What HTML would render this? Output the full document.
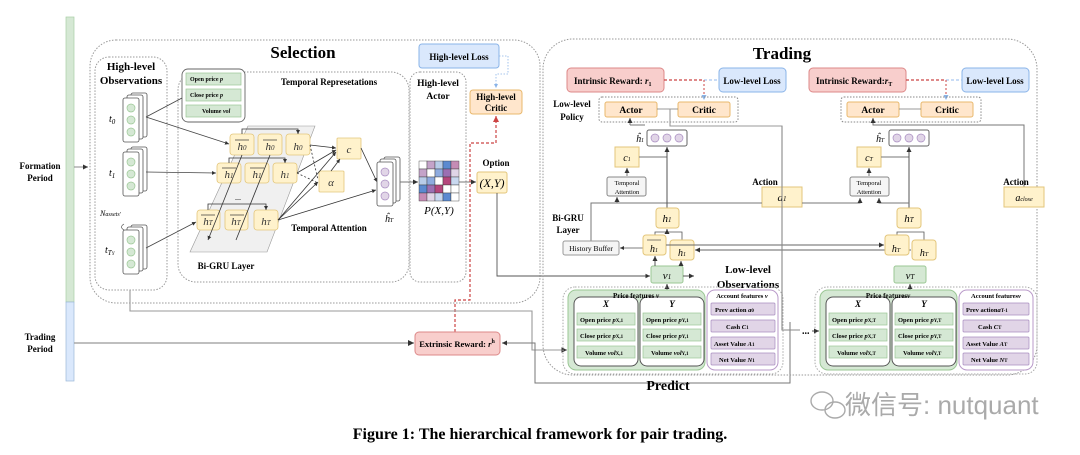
<!DOCTYPE html>
<html><head><meta charset="utf-8"><style>
html,body{margin:0;padding:0;background:#fff;}
svg{display:block;font-family:"Liberation Serif",serif;}
.b{font-weight:bold;}
</style></head><body>
<svg width="1080" height="455" viewBox="0 0 1080 455" xmlns="http://www.w3.org/2000/svg">
<defs>
<marker id="a" markerWidth="6" markerHeight="6" refX="5" refY="3" orient="auto"><path d="M0,0.5 L5,3 L0,5.5z" fill="#333"/></marker>
<marker id="ar" markerWidth="6" markerHeight="6" refX="5" refY="3" orient="auto"><path d="M0,0.5 L5,3 L0,5.5z" fill="#c44"/></marker>
<marker id="ab" markerWidth="6" markerHeight="6" refX="5" refY="3" orient="auto"><path d="M0,0.5 L5,3 L0,5.5z" fill="#8ab4e8"/></marker>
</defs>
<rect x="66" y="17" width="8" height="285" fill="#d5e8d4" stroke="#a8cfa5" stroke-width="0.7"/>
<rect x="66" y="302" width="8" height="79" fill="#dae8fc" stroke="#9bb8d8" stroke-width="0.7"/>
<text x="40" y="169" class="b" font-size="9" text-anchor="middle">Formation</text>
<text x="40" y="181" class="b" font-size="9" text-anchor="middle">Period</text>
<text x="40" y="340" class="b" font-size="9" text-anchor="middle">Trading</text>
<text x="40" y="352" class="b" font-size="9" text-anchor="middle">Period</text>
<line x1="74" y1="167" x2="88" y2="167" stroke="#888" marker-end="url(#a)"/>
<line x1="74" y1="343" x2="414" y2="343" stroke="#999" stroke-width="1.2" marker-end="url(#a)"/>

<rect x="90" y="40" width="450" height="263" rx="26" fill="none" stroke="#999" stroke-dasharray="1.5,1.5"/>
<text x="303" y="58" class="b" font-size="17" text-anchor="middle">Selection</text>
<rect x="95" y="57" width="72" height="233" rx="14" fill="none" stroke="#999" stroke-dasharray="1.5,1.5"/>
<text x="131" y="70" class="b" font-size="11" text-anchor="middle">High-level</text>
<text x="131" y="84" class="b" font-size="11" text-anchor="middle">Observations</text>
<rect x="178" y="72" width="231" height="210" rx="18" fill="none" stroke="#999" stroke-dasharray="1.5,1.5"/>
<text x="329" y="85" class="b" font-size="9" text-anchor="middle">Temporal Represetations</text>
<rect x="410" y="72" width="56" height="210" rx="10" fill="none" stroke="#999" stroke-dasharray="1.5,1.5"/>
<text x="438" y="86" class="b" font-size="9.5" text-anchor="middle">High-level</text>
<text x="438" y="99" class="b" font-size="9.5" text-anchor="middle">Actor</text>

<g fill="#fff" stroke="#555" stroke-width="0.8">
<rect x="131" y="93" width="16" height="44" rx="2"/><rect x="127" y="95" width="16" height="44" rx="2"/><rect x="123" y="98" width="16" height="44" rx="2"/>
<rect x="131" y="147" width="16" height="44" rx="2"/><rect x="127" y="149" width="16" height="44" rx="2"/><rect x="123" y="152" width="16" height="44" rx="2"/>
<rect x="131" y="225" width="16" height="44" rx="2"/><rect x="127" y="227" width="16" height="44" rx="2"/><rect x="123" y="230" width="16" height="44" rx="2"/>
</g>
<g fill="#d5e8d4" stroke="#9bc795" stroke-width="0.7">
<circle cx="131" cy="108" r="4"/><circle cx="131" cy="120" r="4"/><circle cx="131" cy="132" r="4"/>
<circle cx="131" cy="162" r="4"/><circle cx="131" cy="174" r="4"/><circle cx="131" cy="186" r="4"/>
<circle cx="131" cy="240" r="4"/><circle cx="131" cy="252" r="4"/><circle cx="131" cy="264" r="4"/>
</g>
<text x="109" y="122" font-size="10" font-style="italic">t<tspan font-size="7" dy="2">0</tspan></text>
<text x="109" y="176" font-size="10" font-style="italic">t<tspan font-size="7" dy="2">1</tspan></text>
<text x="105" y="253" font-size="10" font-style="italic">t<tspan font-size="7" dy="2">T<tspan font-size="5">Y</tspan></tspan></text>
<text x="100" y="216" font-size="8" font-style="italic">N<tspan font-size="6">assets'</tspan></text>
<path d="M124,224 q-5,3 0,6" fill="none" stroke="#555" stroke-width="0.7"/>

<rect x="182" y="69" width="63" height="53" rx="6" fill="#fff" stroke="#666" stroke-width="0.9"/>
<g fill="#d5e8d4" stroke="#9bc795" stroke-width="0.7">
<rect x="186" y="73" width="55" height="12"/><rect x="186" y="89" width="55" height="12"/><rect x="186" y="105" width="55" height="12"/>
</g>
<g font-size="6" class="b">
<text x="190" y="81">Open price <tspan font-style="italic">p</tspan></text>
<text x="190" y="97">Close price <tspan font-style="italic">p</tspan></text>
<text x="202" y="113">Volume <tspan font-style="italic">vol</tspan></text>
</g>
<g stroke="#444" stroke-width="0.8" fill="none">
<line x1="146" y1="117" x2="182" y2="98"/>
<line x1="146" y1="117" x2="229" y2="144" marker-end="url(#a)"/>
<line x1="146" y1="172" x2="216" y2="173" marker-end="url(#a)"/>
<line x1="146" y1="248" x2="196" y2="222" marker-end="url(#a)"/>
</g>

<polygon points="248,126 315,126 267,252 190,252" fill="#f0f0f0" stroke="#999" stroke-width="0.6"/>
<g fill="#fff2cc" stroke="#e3c67b" stroke-width="0.8">
<rect x="230" y="134" width="24" height="21" rx="3"/><rect x="258" y="134" width="24" height="21" rx="3"/><rect x="286" y="134" width="24" height="21" rx="3"/>
<rect x="217" y="163" width="24" height="20" rx="3"/><rect x="245" y="163" width="24" height="20" rx="3"/><rect x="273" y="163" width="24" height="20" rx="3"/>
<rect x="197" y="210" width="23" height="20" rx="3"/><rect x="225" y="210" width="23" height="20" rx="3"/><rect x="254" y="210" width="24" height="20" rx="3"/>
<rect x="337" y="138" width="24" height="21" rx="1"/><rect x="319" y="171" width="25" height="21" rx="1"/>
</g>
<g font-size="11" font-style="italic" text-anchor="middle" fill="#333">
<text x="242" y="150">h<tspan font-size="7">0</tspan></text><text x="270" y="150">h<tspan font-size="7">0</tspan></text><text x="298" y="150">h<tspan font-size="7">0</tspan></text>
<text x="229" y="178">h<tspan font-size="7">1</tspan></text><text x="257" y="178">h<tspan font-size="7">1</tspan></text><text x="285" y="178">h<tspan font-size="7">1</tspan></text>
<text x="208" y="225">h<tspan font-size="7">T</tspan></text><text x="236" y="225">h<tspan font-size="7">T</tspan></text><text x="266" y="225">h<tspan font-size="7">T</tspan></text>
<text x="349" y="153">c</text><text x="331" y="186">α</text>
</g>
<g stroke="#333" stroke-width="0.7"><line x1="235" y1="140" x2="249" y2="140"/><line x1="263" y1="140" x2="277" y2="140"/><line x1="222" y1="168" x2="236" y2="168"/><line x1="250" y1="168" x2="264" y2="168"/><line x1="201" y1="215" x2="215" y2="215"/><line x1="230" y1="215" x2="244" y2="215"/></g>
<text x="235" y="200" font-size="8">...</text>
<g stroke="#333" stroke-width="0.8" fill="none">
<path d="M242,134 v-5 h56 v5" marker-end="url(#a)"/>
<path d="M229,163 v-5 h56 v5" marker-end="url(#a)"/>
<path d="M208,210 v-6 h58 v6" marker-end="url(#a)"/>
<line x1="242" y1="155" x2="208" y2="240" marker-end="url(#a)"/>
<line x1="270" y1="155" x2="236" y2="240"/>
<line x1="310" y1="145" x2="336" y2="148" marker-end="url(#a)"/>
<line x1="297" y1="173" x2="336" y2="150" marker-end="url(#a)"/>
<line x1="278" y1="220" x2="336" y2="152" marker-end="url(#a)"/>
<line x1="278" y1="220" x2="318" y2="182" marker-end="url(#a)"/>
<line x1="331" y1="171" x2="340" y2="159" marker-end="url(#a)"/>
<line x1="361" y1="148" x2="377" y2="182" marker-end="url(#a)"/>
<line x1="278" y1="220" x2="376" y2="190" marker-end="url(#a)"/>
<line x1="310" y1="145" x2="318" y2="180" stroke-dasharray="2,2"/>
<line x1="297" y1="173" x2="318" y2="183" stroke-dasharray="2,2"/>
</g>
<text x="329" y="231" class="b" font-size="9" text-anchor="middle">Temporal Attention</text>
<text x="226" y="269" class="b" font-size="9" text-anchor="middle">Bi-GRU Layer</text>
<g fill="#fff" stroke="#555" stroke-width="0.8">
<rect x="384" y="157" width="16" height="44" rx="2"/><rect x="380" y="159" width="16" height="44" rx="2"/><rect x="377" y="162" width="16" height="44" rx="2"/>
</g>
<g fill="#e1d5e7" stroke="#a88cc0" stroke-width="0.7"><circle cx="385" cy="172" r="4"/><circle cx="385" cy="184" r="4"/><circle cx="385" cy="196" r="4"/></g>
<text x="389" y="222" font-size="10" font-style="italic" text-anchor="middle">ĥ<tspan font-size="6">T</tspan></text>
<line x1="400" y1="182" x2="418" y2="182" stroke="#777" marker-end="url(#a)"/>
<g stroke="#333" stroke-width="0.4">
<rect x="419" y="161" width="8" height="8" fill="#fff"/><rect x="427" y="161" width="8" height="8" fill="#c4a3c9"/><rect x="435" y="161" width="8" height="8" fill="#b8cce8"/><rect x="443" y="161" width="8" height="8" fill="#5b8ad0"/><rect x="451" y="161" width="8" height="8" fill="#c58cb5"/>
<rect x="419" y="169" width="8" height="8" fill="#c4a3c9"/><rect x="427" y="169" width="8" height="8" fill="#fff"/><rect x="435" y="169" width="8" height="8" fill="#8eabdf"/><rect x="443" y="169" width="8" height="8" fill="#9b6fb3"/><rect x="451" y="169" width="8" height="8" fill="#e1d5e7"/>
<rect x="419" y="177" width="8" height="8" fill="#b8cce8"/><rect x="427" y="177" width="8" height="8" fill="#8eabdf"/><rect x="435" y="177" width="8" height="8" fill="#fff"/><rect x="443" y="177" width="8" height="8" fill="#b5467c"/><rect x="451" y="177" width="8" height="8" fill="#c9d8ef"/>
<rect x="419" y="185" width="8" height="8" fill="#5b8ad0"/><rect x="427" y="185" width="8" height="8" fill="#9b6fb3"/><rect x="435" y="185" width="8" height="8" fill="#b5467c"/><rect x="443" y="185" width="8" height="8" fill="#fff"/><rect x="451" y="185" width="8" height="8" fill="#fff"/>
<rect x="419" y="193" width="8" height="8" fill="#c58cb5"/><rect x="427" y="193" width="8" height="8" fill="#e1d5e7"/><rect x="435" y="193" width="8" height="8" fill="#c9d8ef"/><rect x="443" y="193" width="8" height="8" fill="#5b8ad0"/><rect x="451" y="193" width="8" height="8" fill="#fff"/>
</g>
<text x="439" y="214" font-size="11" font-style="italic" text-anchor="middle">P(X,Y)</text>
<line x1="459" y1="182" x2="476" y2="182" stroke="#777" marker-end="url(#a)"/>
<text x="496" y="166" class="b" font-size="9" text-anchor="middle">Option</text>
<rect x="477" y="172" width="30" height="21" rx="2" fill="#fff2cc" stroke="#e3c67b"/>
<text x="492" y="187" font-size="12" font-style="italic" text-anchor="middle">(X,Y)</text>
<path d="M497,193 V276 H650" fill="none" stroke="#555" stroke-width="0.9" marker-end="url(#a)"/>
<rect x="419" y="44" width="80" height="24" rx="3" fill="#dae8fc" stroke="#8ab4e8"/>
<text x="459" y="60" class="b" font-size="9" text-anchor="middle">High-level Loss</text>
<path d="M499,56 H508 V74 H496 V88" fill="none" stroke="#8ab4e8" stroke-width="0.8" stroke-dasharray="1.5,1.5" marker-end="url(#ab)"/>
<rect x="470" y="90" width="52" height="24" rx="3" fill="#ffe6cc" stroke="#e8b86d"/>
<text x="496" y="100" class="b" font-size="9" text-anchor="middle">High-level</text>
<text x="496" y="111" class="b" font-size="9" text-anchor="middle">Critic</text>
<path d="M455,332 V300 H470 V143 H496 V116" fill="none" stroke="#c44" stroke-width="1.2" stroke-dasharray="3,2" marker-end="url(#ar)"/>
<path d="M130,290 V311 H532 V350 H567" fill="none" stroke="#999" stroke-width="1.1" marker-end="url(#a)"/>
<rect x="415" y="332" width="85" height="23" rx="4" fill="#f8cecc" stroke="#d88"/>
<text x="457" y="347" class="b" font-size="8.5" text-anchor="middle">Extrinsic Reward: <tspan font-style="italic">r</tspan><tspan font-size="6" dy="-4">h</tspan></text>
<path d="M790,322 V383 H535 V343 H502" fill="none" stroke="#777" stroke-width="1" marker-end="url(#a)"/>
<text x="668" y="390" class="b" font-size="14" text-anchor="middle">Predict</text>

<rect x="543" y="39" width="494" height="336" rx="30" fill="none" stroke="#999" stroke-dasharray="1.5,1.5"/>
<text x="782" y="59" class="b" font-size="17" text-anchor="middle">Trading</text>
<rect x="567" y="68" width="97" height="24" rx="4" fill="#f8cecc" stroke="#d88"/>
<text x="574" y="84" class="b" font-size="9">Intrinsic Reward: <tspan font-style="italic">r</tspan><tspan font-size="6" dy="2">1</tspan></text>
<rect x="719" y="68" width="67" height="24" rx="4" fill="#dae8fc" stroke="#8ab4e8"/>
<text x="752" y="84" class="b" font-size="9" text-anchor="middle">Low-level Loss</text>
<line x1="664" y1="80" x2="704" y2="80" stroke="#c44" stroke-width="1.3" stroke-dasharray="3,2"/>
<line x1="704" y1="80" x2="719" y2="80" stroke="#a9c8f0" stroke-width="1.3" stroke-dasharray="3,2"/>
<line x1="704" y1="80" x2="704" y2="100" stroke="#c44" stroke-dasharray="2,2" marker-end="url(#ab)"/>
<rect x="599" y="97" width="139" height="25" rx="3" fill="none" stroke="#888" stroke-dasharray="1.5,1.5"/>
<text x="572" y="107" class="b" font-size="9" text-anchor="middle">Low-level</text>
<text x="572" y="120" class="b" font-size="9" text-anchor="middle">Policy</text>
<rect x="605" y="102" width="52" height="15" rx="2" fill="#ffe6cc" stroke="#e8b86d"/>
<text x="631" y="113" class="b" font-size="9.5" text-anchor="middle">Actor</text>
<rect x="678" y="102" width="52" height="15" rx="2" fill="#ffe6cc" stroke="#e8b86d"/>
<text x="704" y="113" class="b" font-size="9.5" text-anchor="middle">Critic</text>
<line x1="657" y1="109" x2="678" y2="109" stroke="#777" stroke-width="0.7"/>
<path d="M670,109 V126 H782 V330" fill="none" stroke="#999" stroke-width="1.1"/>
<path d="M630,125 V118" stroke="#777" marker-end="url(#a)"/>
<path d="M630,125 H645" stroke="#777" fill="none"/>
<rect x="647" y="130" width="40" height="16" rx="2" fill="#fff" stroke="#666"/>
<g fill="#e1d5e7" stroke="#a88cc0" stroke-width="0.7"><circle cx="655" cy="138" r="4"/><circle cx="667" cy="138" r="4"/><circle cx="679" cy="138" r="4"/></g>
<text x="640" y="142" font-size="10" font-style="italic" text-anchor="middle">ĥ<tspan font-size="6">1</tspan></text>
<rect x="615" y="147" width="24" height="20" fill="#fff2cc" stroke="#e3c67b"/>
<text x="627" y="161" font-size="10" font-style="italic" text-anchor="middle">c<tspan font-size="6">1</tspan></text>
<line x1="639" y1="157" x2="667" y2="157" stroke="#777"/>
<line x1="627" y1="176" x2="627" y2="168" stroke="#777" marker-end="url(#a)"/>
<rect x="607" y="177" width="39" height="19" rx="2" fill="#f5f5f5" stroke="#888"/>
<text x="627" y="185" font-size="6.5" text-anchor="middle">Temporal</text>
<text x="627" y="194" font-size="6.5" text-anchor="middle">Attention</text>
<text x="765" y="185" class="b" font-size="9" text-anchor="middle">Action</text>
<rect x="762" y="187" width="40" height="20" fill="#fff2cc" stroke="#e3c67b"/>
<text x="782" y="201" font-size="11" font-style="italic" text-anchor="middle">a<tspan font-size="7">1</tspan></text>
<path d="M591,241 V203 H762" fill="none" stroke="#777"/>
<line x1="617" y1="203" x2="617" y2="197" stroke="#777" marker-end="url(#a)"/>
<path d="M802,203 H860 V198" fill="none" stroke="#777" marker-end="url(#a)"/>
<line x1="667" y1="208" x2="667" y2="147" stroke="#555" marker-end="url(#a)"/>
<rect x="656" y="208" width="23" height="20" rx="3" fill="#fff2cc" stroke="#e3c67b"/>
<text x="667" y="222" font-size="11" font-style="italic" text-anchor="middle">h<tspan font-size="7">1</tspan></text>
<text x="568" y="221" class="b" font-size="9" text-anchor="middle">Bi-GRU</text>
<text x="568" y="233" class="b" font-size="9" text-anchor="middle">Layer</text>
<rect x="563" y="241" width="56" height="14" rx="2" fill="#f5f5f5" stroke="#999"/>
<text x="591" y="251" font-size="7.5" text-anchor="middle">History Buffer</text>
<path d="M655,235 V232 H682 V240" fill="none" stroke="#555" stroke-width="0.8"/>
<line x1="667" y1="232" x2="667" y2="229" stroke="#555" marker-end="url(#a)"/>
<line x1="643" y1="248" x2="620" y2="248" stroke="#555" stroke-width="0.8" marker-end="url(#a)"/>
<rect x="643" y="235" width="23" height="20" rx="3" fill="#fff2cc" stroke="#e3c67b"/>
<rect x="670" y="240" width="24" height="20" rx="3" fill="#fff2cc" stroke="#e3c67b"/>
<text x="654" y="252" font-size="10" font-style="italic" text-anchor="middle">h<tspan font-size="6">1</tspan></text>
<text x="682" y="256" font-size="10" font-style="italic" text-anchor="middle">h<tspan font-size="6">1</tspan></text>
<line x1="647" y1="240" x2="661" y2="240" stroke="#333" stroke-width="0.6"/>
<line x1="675" y1="245" x2="689" y2="245" stroke="#333" stroke-width="0.6"/>
<line x1="666" y1="245" x2="884" y2="245" stroke="#666" marker-end="url(#a)"/>
<line x1="911" y1="250" x2="695" y2="250" stroke="#666" marker-end="url(#a)"/>
<rect x="651" y="266" width="32" height="17" rx="2" fill="#d5e8d4" stroke="#9bc795"/>
<text x="667" y="279" font-size="11" font-style="italic" text-anchor="middle">v<tspan font-size="7">1</tspan></text>
<line x1="683" y1="276" x2="694" y2="276" stroke="#555" marker-end="url(#a)"/>
<line x1="667" y1="290" x2="667" y2="284" stroke="#555" marker-end="url(#a)"/>
<line x1="655" y1="266" x2="655" y2="256" stroke="#555" marker-end="url(#a)"/>
<line x1="681" y1="266" x2="681" y2="261" stroke="#555" marker-end="url(#a)"/>
<text x="748" y="273" class="b" font-size="11" text-anchor="middle">Low-level</text>
<text x="748" y="288" class="b" font-size="11" text-anchor="middle">Observations</text>

<rect x="809" y="68" width="97" height="24" rx="4" fill="#f8cecc" stroke="#d88"/>
<text x="816" y="84" class="b" font-size="9">Intrinsic Reward:<tspan font-style="italic">r</tspan><tspan font-size="6" dy="2">T</tspan></text>
<rect x="962" y="68" width="67" height="24" rx="4" fill="#dae8fc" stroke="#8ab4e8"/>
<text x="995" y="84" class="b" font-size="9" text-anchor="middle">Low-level Loss</text>
<line x1="906" y1="80" x2="946" y2="80" stroke="#c44" stroke-width="1.3" stroke-dasharray="3,2"/>
<line x1="946" y1="80" x2="962" y2="80" stroke="#a9c8f0" stroke-width="1.3" stroke-dasharray="3,2"/>
<line x1="946" y1="80" x2="946" y2="100" stroke="#c44" stroke-dasharray="2,2" marker-end="url(#ab)"/>
<rect x="841" y="97" width="140" height="25" rx="3" fill="none" stroke="#888" stroke-dasharray="1.5,1.5"/>
<rect x="847" y="102" width="52" height="15" rx="2" fill="#ffe6cc" stroke="#e8b86d"/>
<text x="873" y="113" class="b" font-size="9.5" text-anchor="middle">Actor</text>
<rect x="921" y="102" width="52" height="15" rx="2" fill="#ffe6cc" stroke="#e8b86d"/>
<text x="947" y="113" class="b" font-size="9.5" text-anchor="middle">Critic</text>
<line x1="899" y1="109" x2="921" y2="109" stroke="#777" stroke-width="0.7"/>
<path d="M1024,187 V125 H873 V118" fill="none" stroke="#777" marker-end="url(#a)"/>
<rect x="889" y="130" width="40" height="16" rx="2" fill="#fff" stroke="#666"/>
<g fill="#e1d5e7" stroke="#a88cc0" stroke-width="0.7"><circle cx="897" cy="138" r="4"/><circle cx="909" cy="138" r="4"/><circle cx="921" cy="138" r="4"/></g>
<text x="880" y="142" font-size="10" font-style="italic" text-anchor="middle">ĥ<tspan font-size="6">T</tspan></text>
<rect x="857" y="147" width="24" height="20" fill="#fff2cc" stroke="#e3c67b"/>
<text x="869" y="161" font-size="10" font-style="italic" text-anchor="middle">c<tspan font-size="6">T</tspan></text>
<line x1="881" y1="157" x2="909" y2="157" stroke="#777"/>
<line x1="869" y1="176" x2="869" y2="168" stroke="#777" marker-end="url(#a)"/>
<rect x="850" y="177" width="39" height="19" rx="2" fill="#f5f5f5" stroke="#888"/>
<text x="869" y="185" font-size="6.5" text-anchor="middle">Temporal</text>
<text x="869" y="194" font-size="6.5" text-anchor="middle">Attention</text>
<text x="1016" y="185" class="b" font-size="9" text-anchor="middle">Action</text>
<rect x="1004" y="187" width="40" height="20" fill="#fff2cc" stroke="#e3c67b"/>
<text x="1024" y="201" font-size="10" font-style="italic" text-anchor="middle">a<tspan font-size="6">close</tspan></text>
<line x1="909" y1="208" x2="909" y2="147" stroke="#555" marker-end="url(#a)"/>
<path d="M909,203 H879 V198" fill="none" stroke="#777" marker-end="url(#a)"/>
<rect x="897" y="208" width="24" height="20" rx="3" fill="#fff2cc" stroke="#e3c67b"/>
<text x="909" y="222" font-size="11" font-style="italic" text-anchor="middle">h<tspan font-size="7">T</tspan></text>
<path d="M897,235 V232 H924 V240" fill="none" stroke="#555" stroke-width="0.8"/>
<rect x="885" y="235" width="24" height="20" rx="3" fill="#fff2cc" stroke="#e3c67b"/>
<rect x="912" y="240" width="24" height="20" rx="3" fill="#fff2cc" stroke="#e3c67b"/>
<text x="896" y="252" font-size="10" font-style="italic" text-anchor="middle">h<tspan font-size="6">T</tspan></text>
<text x="924" y="256" font-size="10" font-style="italic" text-anchor="middle">h<tspan font-size="6">T</tspan></text>
<rect x="894" y="266" width="32" height="17" rx="2" fill="#d5e8d4" stroke="#9bc795"/>
<text x="910" y="279" font-size="11" font-style="italic" text-anchor="middle">v<tspan font-size="7">T</tspan></text>
<line x1="910" y1="290" x2="910" y2="284" stroke="#555" marker-end="url(#a)"/>

<g>
<rect x="568" y="290" width="137" height="80" rx="8" fill="#d5e8d4" stroke="#9bc795"/>
<rect x="574" y="297" width="64" height="69" rx="7" fill="#fff" stroke="#555"/>
<rect x="640" y="297" width="64" height="69" rx="7" fill="#fff" stroke="#555"/>
<g fill="#d5e8d4" stroke="#9bc795" stroke-width="0.7">
<rect x="577" y="313" width="58" height="12"/><rect x="577" y="329" width="58" height="12"/><rect x="577" y="346" width="58" height="12"/>
<rect x="643" y="313" width="58" height="12"/><rect x="643" y="329" width="58" height="12"/><rect x="643" y="346" width="58" height="12"/>
</g>
<rect x="707" y="290" width="71" height="80" rx="8" fill="#fff" stroke="#b99ac9"/>
<g fill="#e1d5e7" stroke="#a88cc0" stroke-width="0.7">
<rect x="711" y="303" width="64" height="12" rx="1"/><rect x="711" y="320" width="64" height="12" rx="1"/><rect x="711" y="337" width="64" height="12" rx="1"/><rect x="711" y="353" width="64" height="12" rx="1"/>
</g>
<g font-size="6.5" class="b">
<text x="636" y="298" text-anchor="middle" font-size="7">Price features <tspan font-style="italic">v</tspan></text>
<text x="606" y="307" text-anchor="middle" font-style="italic" font-size="9">X</text>
<text x="672" y="307" text-anchor="middle" font-style="italic" font-size="9">Y</text>
<text x="580" y="322">Open price <tspan font-style="italic">p</tspan><tspan font-size="5">X,1</tspan></text>
<text x="580" y="338">Close price <tspan font-style="italic">p</tspan><tspan font-size="5">X,1</tspan></text>
<text x="585" y="355">Volume  <tspan font-style="italic">vol</tspan><tspan font-size="5">X,1</tspan></text>
<text x="646" y="322">Open price <tspan font-style="italic">p</tspan><tspan font-size="5">Y,1</tspan></text>
<text x="646" y="338">Close price <tspan font-style="italic">p</tspan><tspan font-size="5">Y,1</tspan></text>
<text x="651" y="355">Volume  <tspan font-style="italic">vol</tspan><tspan font-size="5">Y,1</tspan></text>
<text x="742" y="298" text-anchor="middle" font-size="6.5">Account features <tspan font-style="italic">v</tspan></text>
<text x="715" y="312">Prev action  <tspan font-style="italic">a</tspan><tspan font-size="5">0</tspan></text>
<text x="726" y="329">Cash      <tspan font-style="italic">C</tspan><tspan font-size="5">1</tspan></text>
<text x="714" y="346">Asset Value <tspan font-style="italic">A</tspan><tspan font-size="5">1</tspan></text>
<text x="719" y="362">Net Value  <tspan font-style="italic">N</tspan><tspan font-size="5">1</tspan></text>
</g>
</g>
<rect x="563" y="287" width="220" height="87" rx="12" fill="none" stroke="#aaa" stroke-dasharray="1.5,1.5"/>
<rect x="815" y="287" width="222" height="87" rx="12" fill="none" stroke="#aaa" stroke-dasharray="1.5,1.5"/>
<g transform="translate(252,0)">
<rect x="568" y="290" width="137" height="80" rx="8" fill="#d5e8d4" stroke="#9bc795"/>
<rect x="574" y="297" width="64" height="69" rx="7" fill="#fff" stroke="#555"/>
<rect x="640" y="297" width="64" height="69" rx="7" fill="#fff" stroke="#555"/>
<g fill="#d5e8d4" stroke="#9bc795" stroke-width="0.7">
<rect x="577" y="313" width="58" height="12"/><rect x="577" y="329" width="58" height="12"/><rect x="577" y="346" width="58" height="12"/>
<rect x="643" y="313" width="58" height="12"/><rect x="643" y="329" width="58" height="12"/><rect x="643" y="346" width="58" height="12"/>
</g>
<rect x="707" y="290" width="74" height="80" rx="8" fill="#fff" stroke="#b99ac9"/>
<g fill="#e1d5e7" stroke="#a88cc0" stroke-width="0.7">
<rect x="711" y="303" width="66" height="12" rx="1"/><rect x="711" y="320" width="66" height="12" rx="1"/><rect x="711" y="337" width="66" height="12" rx="1"/><rect x="711" y="353" width="66" height="12" rx="1"/>
</g>
<g font-size="6.5" class="b">
<text x="636" y="298" text-anchor="middle" font-size="7">Price features<tspan font-style="italic">v</tspan></text>
<text x="606" y="307" text-anchor="middle" font-style="italic" font-size="9">X</text>
<text x="672" y="307" text-anchor="middle" font-style="italic" font-size="9">Y</text>
<text x="580" y="322">Open price <tspan font-style="italic">p</tspan><tspan font-size="5">X,T</tspan></text>
<text x="580" y="338">Close price <tspan font-style="italic">p</tspan><tspan font-size="5">X,T</tspan></text>
<text x="585" y="355">Volume  <tspan font-style="italic">vol</tspan><tspan font-size="5">X,T</tspan></text>
<text x="646" y="322">Open price <tspan font-style="italic">p</tspan><tspan font-size="5">Y,T</tspan></text>
<text x="646" y="338">Close price <tspan font-style="italic">p</tspan><tspan font-size="5">Y,T</tspan></text>
<text x="651" y="355">Volume  <tspan font-style="italic">vol</tspan><tspan font-size="5">Y,T</tspan></text>
<text x="744" y="298" text-anchor="middle" font-size="6.5">Account features<tspan font-style="italic">v</tspan></text>
<text x="714" y="312">Prev action<tspan font-style="italic">a</tspan><tspan font-size="5">T-1</tspan></text>
<text x="726" y="329">Cash      <tspan font-style="italic">C</tspan><tspan font-size="5">T</tspan></text>
<text x="714" y="346">Asset Value <tspan font-style="italic">A</tspan><tspan font-size="5">T</tspan></text>
<text x="719" y="362">Net Value  <tspan font-style="italic">N</tspan><tspan font-size="5">T</tspan></text>
</g>
</g>
<path d="M782,126 V330 H800" fill="none" stroke="#888"/>
<text x="802" y="334" class="b" font-size="10">...</text>
<line x1="812" y1="331" x2="819" y2="331" stroke="#555" marker-end="url(#a)"/>

<g fill="none" stroke="#aaa" stroke-width="1.4">
<ellipse cx="822" cy="401" rx="11" ry="9"/><ellipse cx="835" cy="410" rx="10" ry="8"/>
</g>
<text x="845" y="414" font-family="'Liberation Sans','Noto Sans CJK SC',sans-serif" font-size="26" fill="#aaa">微信号: nutquant</text>
<text x="540" y="439" class="b" font-size="16" text-anchor="middle">Figure 1: The hierarchical framework for pair trading.</text>
</svg>
</body></html>
